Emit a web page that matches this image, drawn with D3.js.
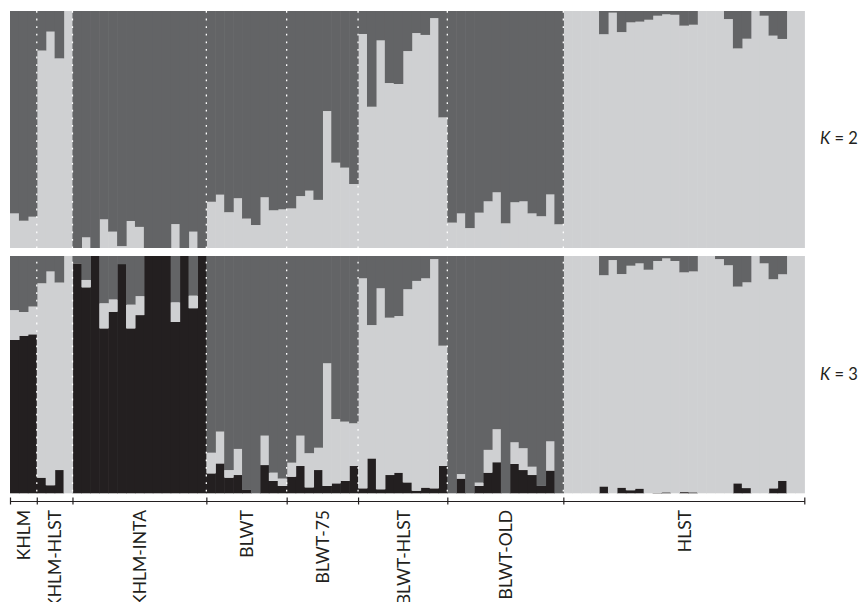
<!DOCTYPE html>
<html><head><meta charset="utf-8">
<script src="https://cdn.jsdelivr.net/npm/d3@7/dist/d3.min.js"></script>
<style>body{margin:0;background:#fff}svg{display:block}</style>
</head><body><svg id="c" width="866" height="602"></svg>
<script>
const groups = ["KHLM","KHLM-HLST","KHLM-INTA","BLWT","BLWT-75","BLWT-HLST","BLWT-OLD","HLST"];
const groupSizes = [3,4,15,9,8,10,13,27];
const kLabels = ["2","3"];

// K = 2 : proportion of light cluster (rest = dark cluster)
const k2Light = [
  0.146,0.115,0.132,
  0.833,0.913,0.80,1.0,
  0,0.045,0,0.121,0.069,0.008,0.114,0.089,0,0,0,0.101,0,0.069,0,
  0.195,0.225,0.151,0.21,0.124,0.097,0.214,0.159,0.163,
  0.167,0.219,0.242,0.203,0.578,0.36,0.339,0.27,
  0.903,0.596,0.876,0.696,0.692,0.831,0.907,0.899,0.97,0.551,
  0.107,0.146,0.084,0.149,0.197,0.235,0.104,0.193,0.197,0.146,0.134,0.226,0.1,
  1,1,1,1,0.902,0.993,0.911,0.952,0.955,0.963,0.98,0.986,0.984,0.938,0.942,1,1,1,0.966,0.842,0.883,1,0.98,0.896,0.882,1,1
];
// K = 3 : black cluster (bottom) and dark cluster (top); light = remainder
const k3Black = [
  0.646,0.664,0.67,
  0.066,0.034,0.098,0,
  0.969,0.868,1,0.695,0.765,0.966,0.695,0.751,1,1,1,0.722,1,0.78,1,
  0.084,0.126,0.066,0.077,0.014,0,0.119,0.052,0.031,
  0.07,0.115,0.025,0.098,0.031,0.042,0.052,0.115,
  0.021,0.147,0.017,0.077,0.087,0.046,0.011,0.024,0.021,0.115,
  0,0.062,0,0.031,0.087,0.131,0,0.124,0.098,0.077,0.031,0.096,0,
  0,0,0,0,0.029,0,0.024,0.013,0.02,0,0.002,0.004,0,0.005,0.004,0,0,0,0,0.042,0.022,0,0,0.021,0.053,0,0
];
const k3Dark = [
  0.228,0.236,0.213,
  0.115,0.065,0.112,0,
  0.031,0.101,0,0.199,0.183,0.034,0.205,0.169,0,0,0,0.195,0,0.167,0,
  0.829,0.74,0.902,0.813,0.986,1,0.757,0.913,0.938,
  0.871,0.757,0.831,0.808,0.452,0.687,0.698,0.705,
  0.094,0.291,0.136,0.26,0.253,0.14,0.105,0.094,0.013,0.378,
  1,0.919,1,0.955,0.817,0.73,1,0.785,0.81,0.888,0.969,0.781,1,
  0,0,0,0,0.081,0.017,0.076,0.041,0.031,0.058,0.021,0.01,0.021,0.069,0.065,0,0,0.013,0.039,0.129,0.111,0,0.031,0.098,0.077,0,0
];

const colLight = "#cfd0d2", colDark = "#636466", colBlack = "#231f20";
const n = k2Light.length;
const svg = d3.select("#c");
const x = d3.scaleLinear().domain([0, n]).range([10, 804.3]);
const y2 = d3.scaleLinear().domain([0, 1]).range([248, 11]);
const y3 = d3.scaleLinear().domain([0, 1]).range([493.3, 256]);

// K=2 stacks: light bottom, dark top
const k2Rows = k2Light.map((v,i)=>({i, light:v, dark:1-v}));
const k2Stack = d3.stack().keys(["light","dark"])(k2Rows);
const k2Cols = {light:colLight, dark:colDark};
svg.append("g").selectAll("g").data(k2Stack).join("g")
  .attr("fill", d=>k2Cols[d.key])
  .selectAll("rect").data(d=>d).join("rect")
  .attr("x", d=>x(d.data.i)).attr("width", d=>x(d.data.i+1)-x(d.data.i)+0.6)
  .attr("y", d=>y2(d[1])).attr("height", d=>Math.max(0, y2(d[0])-y2(d[1])));

// K=3 stacks: black bottom, light middle, dark top
const k3Rows = k3Black.map((b,i)=>({i, black:b, light:Math.max(0,1-b-k3Dark[i]), dark:k3Dark[i]}));
const k3Stack = d3.stack().keys(["black","light","dark"])(k3Rows);
const k3Cols = {black:colBlack, light:colLight, dark:colDark};
svg.append("g").selectAll("g").data(k3Stack).join("g")
  .attr("fill", d=>k3Cols[d.key])
  .selectAll("rect").data(d=>d).join("rect")
  .attr("x", d=>x(d.data.i)).attr("width", d=>x(d.data.i+1)-x(d.data.i)+0.6)
  .attr("y", d=>y3(d[1])).attr("height", d=>Math.max(0, y3(d[0])-y3(d[1])));

// group boundaries
const bounds = [0];
groupSizes.forEach(s=>bounds.push(bounds[bounds.length-1]+s));
const inner = bounds.slice(1, -1);
svg.append("g").selectAll("line").data(inner).join("line")
  .attr("x1", d=>x(d)).attr("x2", d=>x(d))
  .attr("y1", 11).attr("y2", 493)
  .attr("stroke", "#fff").attr("stroke-width", 1.3)
  .attr("stroke-dasharray", "1.8,5.8");

// bottom axis
const axis = d3.axisBottom(x).tickValues(bounds).tickFormat("").tickSizeOuter(0).tickSizeInner(4);
const ag = svg.append("g").attr("transform", "translate(0,501)").call(axis);
ag.select(".domain").attr("stroke", colBlack).attr("stroke-width", 1.2);
ag.selectAll(".tick line").attr("y1", -3.5).attr("y2", 3.5).attr("stroke", colBlack).attr("stroke-width", 1.2);

// group labels
const centers = groups.map((g,k)=>({g, c:(bounds[k]+bounds[k+1])/2}));
svg.append("g").selectAll("text").data(centers).join("text")
  .attr("transform", d=>`translate(${x(d.c)+0.5},510) rotate(-90)`)
  .attr("text-anchor", "end").attr("dy", "0.36em")
  .attr("font-family", "Lato, 'Noto Sans', sans-serif").attr("font-size", 17.5)
  .attr("fill", colBlack)
  .text(d=>d.g);

// K labels
const kBase = [144, 380];
kLabels.forEach((k,j)=>{
  const t = svg.append("text").attr("x", 820).attr("y", kBase[j])
    .attr("font-family", "Lato, 'Noto Sans', sans-serif").attr("font-size", 16.5).attr("fill", colBlack);
  t.append("tspan").attr("font-style", "italic").text("K");
  t.append("tspan").text(" = " + k);
});
</script></body></html>
